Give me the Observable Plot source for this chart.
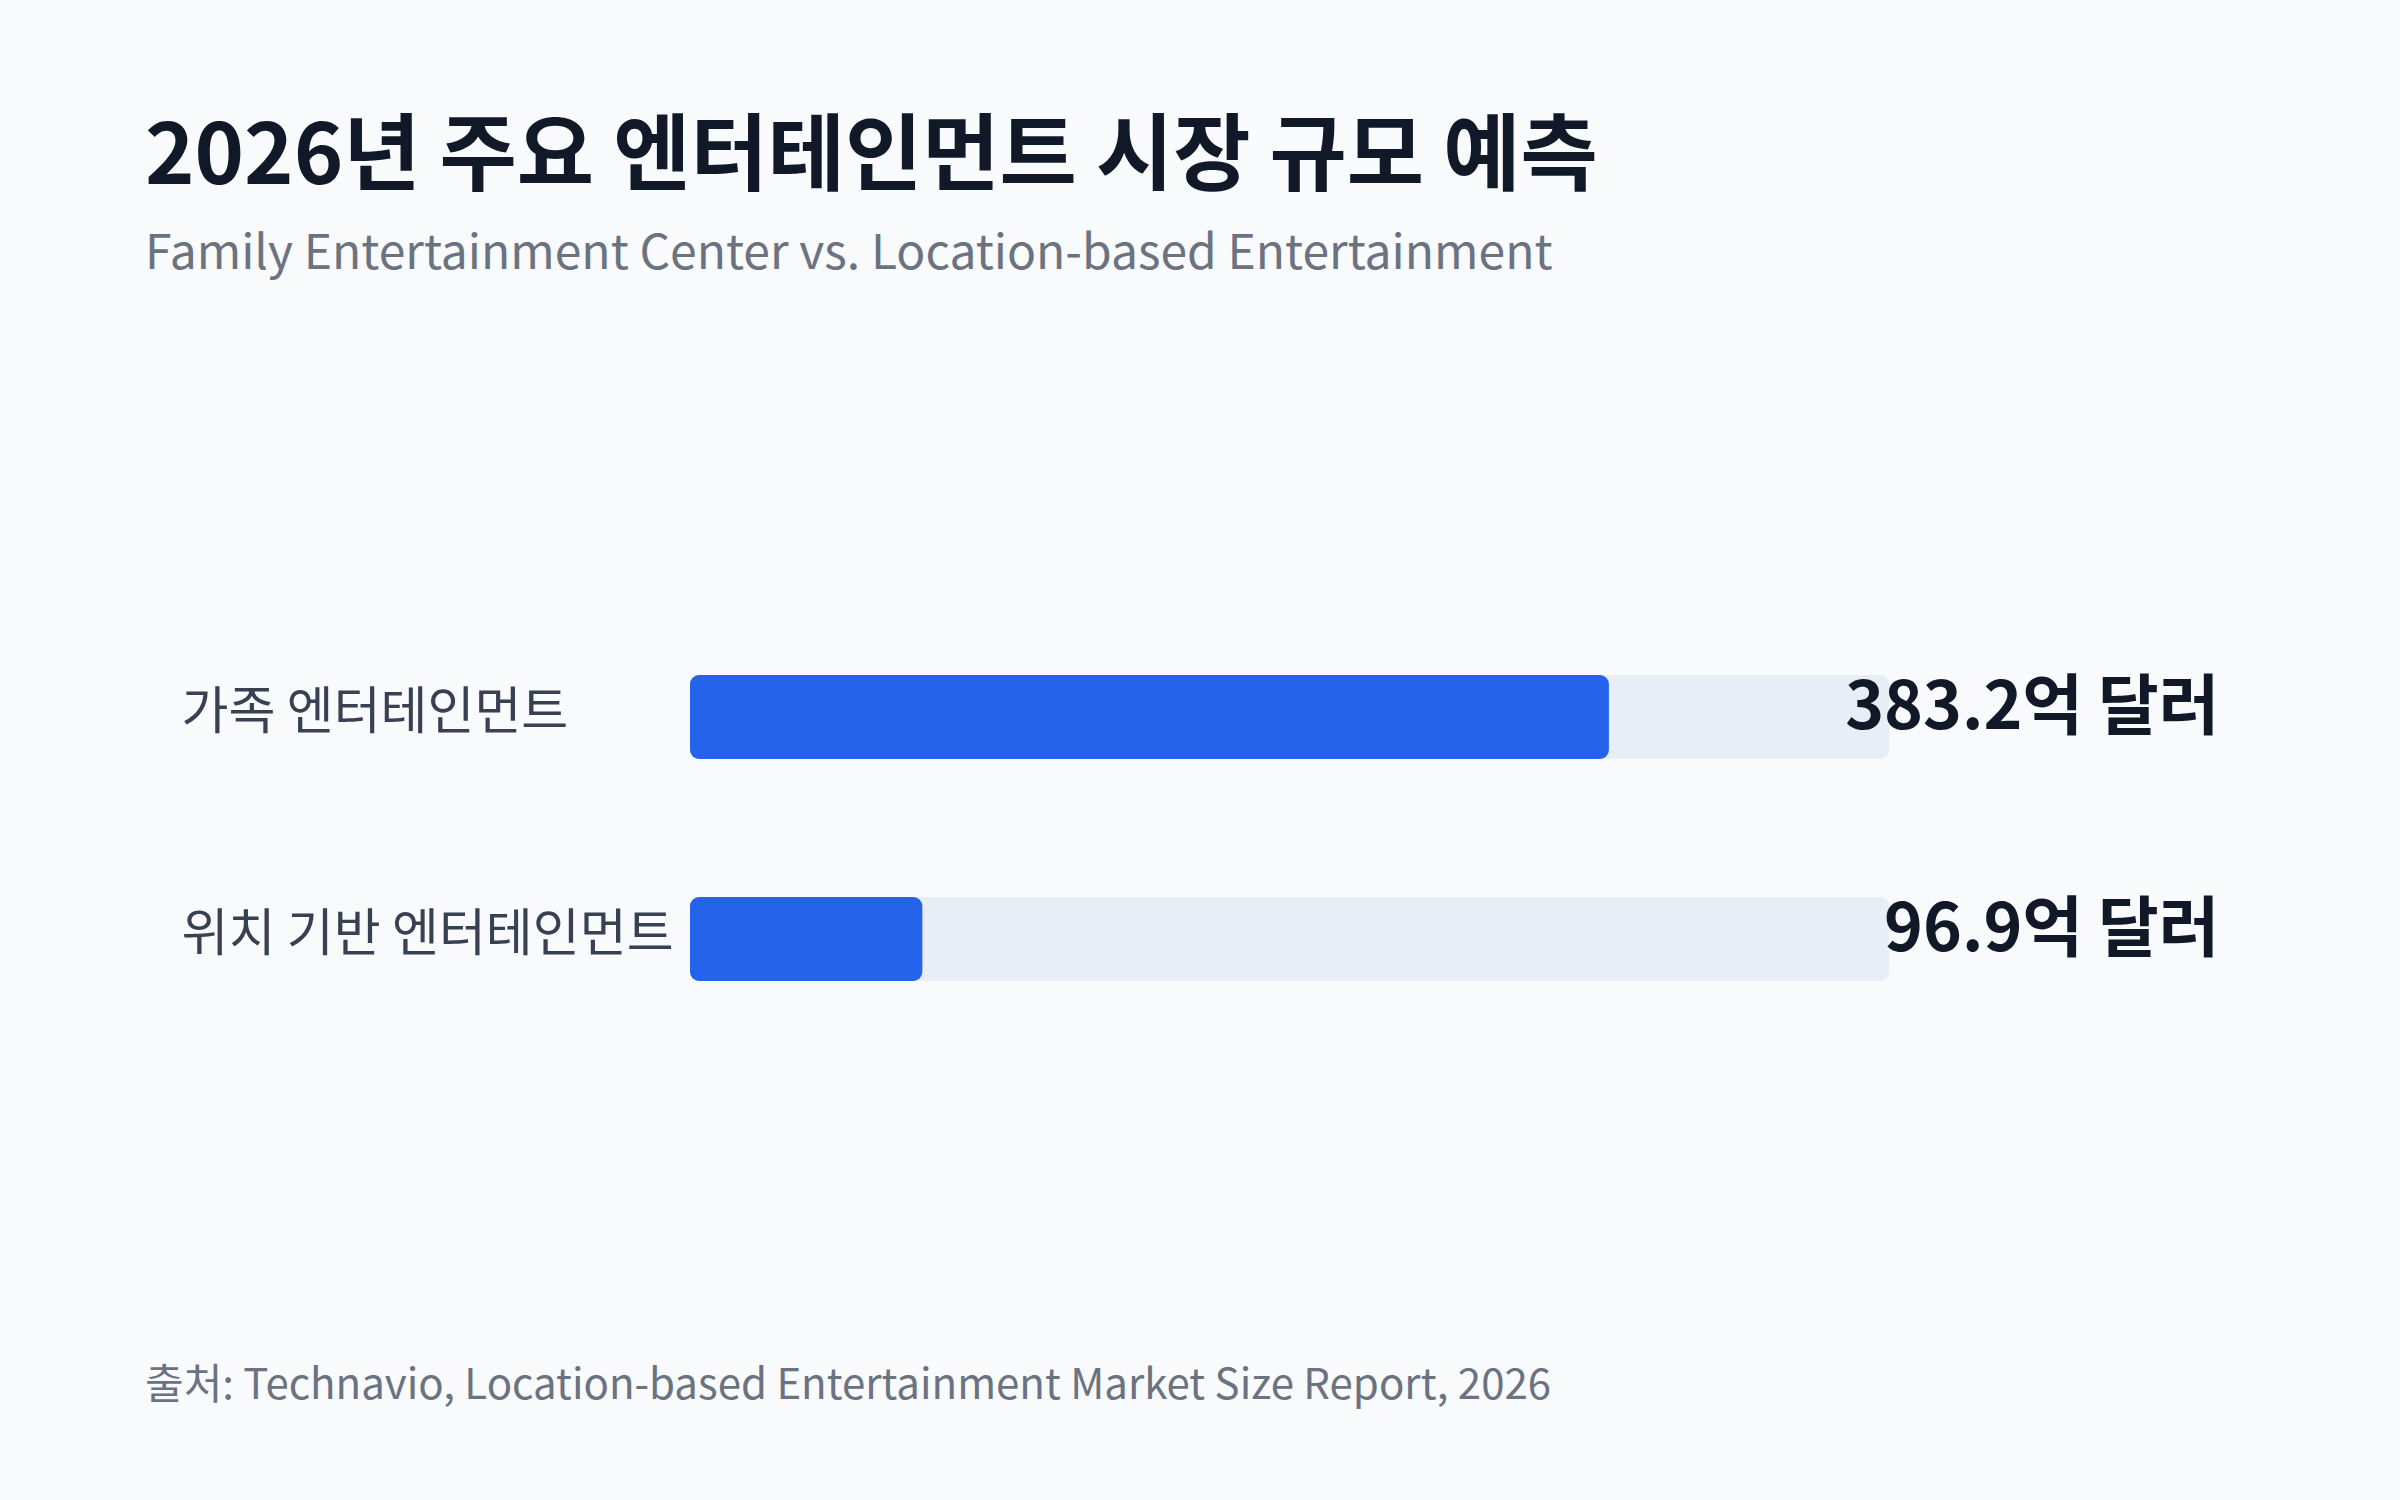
<!DOCTYPE html>
<html>
<head>
<meta charset="utf-8">
<script src="https://cdn.jsdelivr.net/npm/d3@7"></script>
<script src="https://cdn.jsdelivr.net/npm/@observablehq/plot@0.6"></script>
<style>
  html, body { margin: 0; padding: 0; background: #f8fafc; }
  body { width: 2400px; height: 1500px; position: relative; overflow: hidden;
         font-family: "Noto Sans CJK KR", "Noto Sans", sans-serif; }
  #title { position: absolute; left: 145px; top: 106px; font-size: 84px; font-weight: 700;
           color: #111827; line-height: 1; white-space: nowrap; }
  #subtitle { position: absolute; left: 145px; top: 224px; font-size: 48px; color: #6b7280;
              line-height: 1; white-space: nowrap; }
  #chart { position: absolute; left: 0; top: 300px; }
  #source { position: absolute; left: 145px; top: 1360px; font-size: 42px; color: #6b7280;
            line-height: 1; white-space: nowrap; }
</style>
</head>
<body>
<div id="title"></div>
<div id="subtitle"></div>
<div id="chart"></div>
<div id="source"></div>
<script>
const titleText = "2026년 주요 엔터테인먼트 시장 규모 예측";
const subtitleText = "Family Entertainment Center vs. Location-based Entertainment";
const sourceText = "출처: Technavio, Location-based Entertainment Market Size Report, 2026";

const categories = ["가족 엔터테인먼트", "위치 기반 엔터테인먼트"];
const values = [383.2, 96.9];
const valueLabels = ["383.2억 달러", "96.9억 달러"];
const maxValue = 500;

document.getElementById("title").textContent = titleText;
document.getElementById("subtitle").textContent = subtitleText;
document.getElementById("source").textContent = sourceText;

const data = categories.map((c, i) => ({name: c, value: values[i], label: valueLabels[i], max: maxValue}));

const W = 2400, H = 1000;
const mL = 690, mR = 511;

const chart = Plot.plot({
  width: W,
  height: H,
  marginLeft: mL,
  marginRight: mR,
  marginTop: 0,
  marginBottom: 0,
  style: {background: "transparent", fontFamily: "\"Noto Sans CJK KR\", sans-serif"},
  x: {domain: [0, maxValue], axis: null},
  y: {domain: categories, range: [306, 750], paddingInner: 0.6216, paddingOuter: 0.3108, axis: null},
  marks: [
    Plot.barX(data, {y: "name", x: "max", fill: "#e8eef6", rx: 9}),
    Plot.barX(data, {y: "name", x: "value", fill: "#2563eb", rx: 9}),
    Plot.text(data, {y: "name", text: "name", frameAnchor: "left", textAnchor: "start", dx: 181 - mL, dy: -5,
                     fontSize: 51, fill: "#374151"}),
    Plot.text(data, {y: "name", text: "label", frameAnchor: "right", textAnchor: "end", dx: 330, dy: -10,
                     fontSize: 66, fontWeight: 700, fill: "#111827"})
  ]
});
document.getElementById("chart").appendChild(chart);
</script>
</body>
</html>
